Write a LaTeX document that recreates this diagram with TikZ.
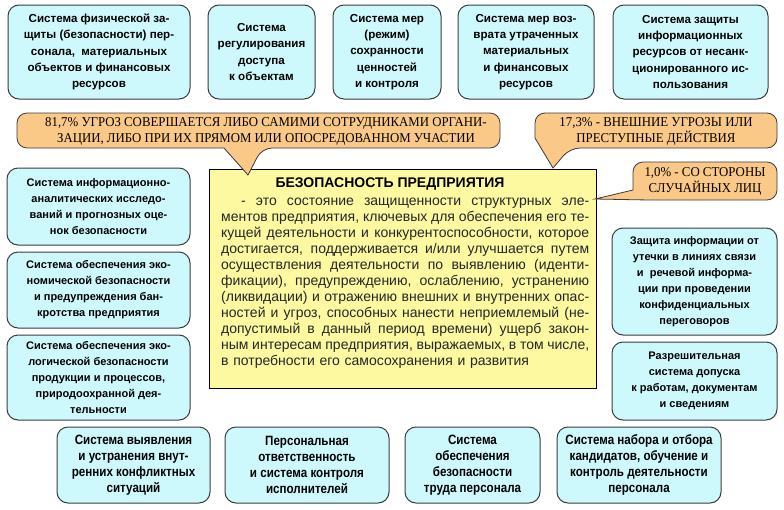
\documentclass[tikz,border=0pt]{standalone}
\usepackage{fontspec}
\setmainfont{Liberation Sans}
\newfontfamily\serifc[FakeStretch=0.95]{Liberation Serif}
\newfontfamily\narrowf[FakeStretch=0.86]{Liberation Sans}
\definecolor{boxfill}{RGB}{206,249,252}
\definecolor{boxdraw}{RGB}{60,60,60}
\definecolor{callfill}{RGB}{250,200,135}
\definecolor{yelfill}{RGB}{252,249,160}
\newcommand\jl[1]{{\spaceskip=0.3em plus 3em minus 0.12em\makebox[368pt][s]{#1}}\\}
\begin{document}
\begin{tikzpicture}[x=1pt,y=-1pt,
 sbox/.style={draw=boxdraw, line width=1pt, fill=boxfill, rounded corners=11pt, align=center, inner sep=0pt, font=\fontsize{11}{16}\selectfont\bfseries},
 tbox/.style={sbox, font=\fontsize{11.6}{16.2}\selectfont\bfseries},
 nbox/.style={sbox, font=\narrowf\fontsize{13.5}{16}\selectfont\bfseries},
 callout/.style={draw=boxdraw, line width=0.8pt, fill=callfill},
 ctext/.style={align=center, inner sep=0pt, font=\serifc\fontsize{13.5}{16}\selectfont},
 ybox/.style={draw=black, line width=1pt, fill=yelfill}
 ]
\useasboundingbox (0,0) rectangle (784,509);
\fill[white] (0,0) rectangle (784,509);

% top row
\node[tbox, minimum width=182pt, minimum height=94pt] (t1) at (99,52) {Система физической за-\\щиты (безопасности) пер-\\сонала,\ \ материальных\\объектов и финансовых\\ресурсов};
\node[tbox, minimum width=107pt, minimum height=94pt] (t2) at (261.5,52) {Система\\регулирования\\доступа\\к объектам};
\node[tbox, minimum width=108pt, minimum height=94pt] (t3) at (387,52) {Система мер\\(режим)\\сохранности\\ценностей\\и контроля};
\node[tbox, minimum width=136pt, minimum height=94pt] (t4) at (526,52) {Система мер воз-\\врата утраченных\\материальных\\и финансовых\\ресурсов};
\node[tbox, minimum width=155pt, minimum height=94pt] (t5) at (690.5,52) {Система защиты\\информационных\\ресурсов от несанк-\\ционированного ис-\\пользования};

% left column
\node[sbox, minimum width=183pt, minimum height=77pt] (l1) at (98.5,206.5) {Система информационно-\\аналитических исследо-\\ваний и прогнозных оце-\\нок безопасности};
\node[sbox, minimum width=183pt, minimum height=76pt] (l2) at (98.5,290) {Система обеспечения эко-\\номической безопасности\\и предупреждения бан-\\кротства предприятия};
\node[sbox, minimum width=183pt, minimum height=85pt] (l3) at (98.5,377.5) {Система обеспечения эко-\\логической безопасности\\продукции и процессов,\\природоохранной дея-\\тельности};

% right column
\node[sbox, minimum width=165pt, minimum height=107pt] (r1) at (694.5,281.5) {Защита информации от\\утечки в линиях связи\\и\ \ речевой информа-\\ции при проведении\\конфиденциальных\\переговоров};
\node[sbox, minimum width=165pt, minimum height=78pt] (r2) at (694.5,381) {Разрешительная\\система допуска\\к работам, документам\\и сведениям};

% bottom row
\node[nbox, minimum width=153pt, minimum height=76pt] (b1) at (133.5,465) {Система выявления\\и устранения внут-\\ренних конфликтных\\ситуаций};
\node[nbox, minimum width=164pt, minimum height=76pt] (b2) at (307,465) {Персональная\\ответственность\\и система контроля\\исполнителей};
\node[nbox, minimum width=135pt, minimum height=76pt] (b3) at (472.5,465) {Система\\обеспечения\\безопасности\\труда персонала};
\node[nbox, minimum width=164pt, minimum height=76pt] (b4) at (639,465) {Система набора и отбора\\кандидатов, обучение и\\контроль деятельности\\персонала};

% central box
\node[ybox, minimum width=387pt, minimum height=219pt, inner sep=0pt] (c) at (402.5,278.5) {};
\node[inner sep=0pt, font=\fontsize{14}{16}\selectfont\bfseries] (ct) at (390,184) {БЕЗОПАСНОСТЬ ПРЕДПРИЯТИЯ};
\node[anchor=north west, inner sep=0pt, text width=368pt, align=left, text=black!85, font=\fontsize{14}{16}\selectfont] (cb) at (221,198) {%
\jl{\hspace*{20pt}- это состояние защищенности структурных эле-}%
\jl{ментов предприятия, ключевых для обеспечения его те-}%
\jl{кущей деятельности и конкурентоспособности, которое}%
\jl{достигается, поддерживается и/или улучшается путем}%
\jl{осуществления деятельности по выявлению (иденти-}%
\jl{фикации), предупреждению, ослаблению, устранению}%
\jl{(ликвидации) и отражению внешних и внутренних опас-}%
\jl{ностей и угроз, способных нанести неприемлемый (не-}%
\jl{допустимый в данный период времени) ущерб закон-}%
\jl{ным интересам предприятия, выражаемых, в том числе,}%
в потребности его самосохранения и развития};

% callouts
\draw[callout] (258,113) [rounded corners=10pt] -- (500,113) -- (500,148) -- (262,148) [sharp corners] -- (248,175) -- (224,148) [rounded corners=10pt] -- (17,148) -- (17,113) -- cycle;
\node[ctext] (c1) at (266,131) {81,7\% УГРОЗ СОВЕРШАЕТСЯ ЛИБО САМИМИ СОТРУДНИКАМИ ОРГАНИ-\\ЗАЦИИ, ЛИБО ПРИ ИХ ПРЯМОМ ИЛИ ОПОСРЕДОВАННОМ УЧАСТИИ};

\draw[callout] (656,113) [rounded corners=10pt] -- (777,113) -- (777,148) -- (570,148) [sharp corners] -- (553,168) -- (535,138) [rounded corners=10pt] -- (535,113) -- cycle;
\node[ctext] (c2) at (656,131) {17,3\% - ВНЕШНИЕ УГРОЗЫ ИЛИ\\ПРЕСТУПНЫЕ ДЕЙСТВИЯ};

\draw[callout] (705,162) [rounded corners=10pt] -- (777,162) -- (777,200) -- (648,200) [sharp corners] -- (595,199) -- (633,190) [rounded corners=10pt] -- (633,162) -- cycle;
\node[ctext] (c3) at (705,181) {1,0\% - СО СТОРОНЫ\\СЛУЧАЙНЫХ ЛИЦ};
\end{tikzpicture}
\end{document}
